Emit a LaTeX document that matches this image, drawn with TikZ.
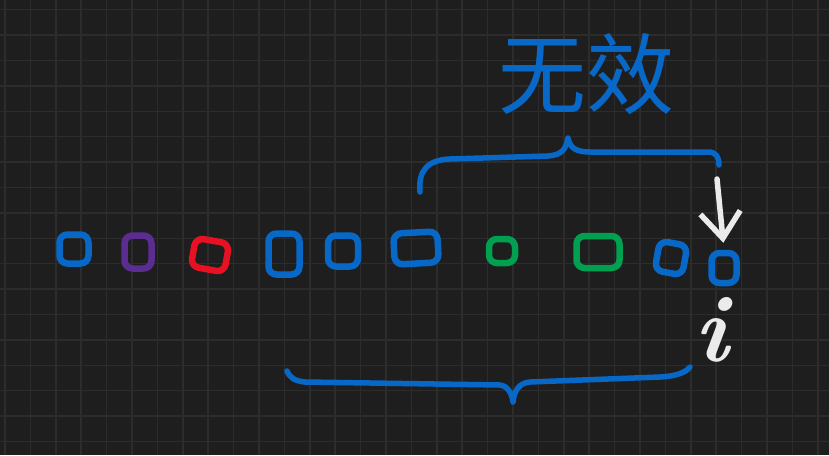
\documentclass[tikz,border=0pt]{standalone}
\usepackage{fontspec}
\newfontfamily\cjkfont{Noto Sans CJK SC}
\usetikzlibrary{arrows.meta}

\definecolor{board}{RGB}{30,30,30}
\definecolor{gridline}{RGB}{44,44,44}
\definecolor{penblue}{RGB}{8,104,200}
\definecolor{penpurple}{RGB}{92,45,145}
\definecolor{penred}{RGB}{232,17,35}
\definecolor{pengreen}{RGB}{0,160,80}
\definecolor{chalk}{RGB}{235,235,235}

\begin{document}
\begin{tikzpicture}[
            x=1pt, y=-1pt,
            pen/.style={line width=6.5pt, line cap=round, line join=round},
            sq/.style={pen, draw, rounded corners=8pt, inner sep=0pt},
            brace/.style={pen, penblue, line width=5.5pt},
            ar/.style={pen, chalk, line width=5.5pt,
            -{Straight Barb[length=26pt, width=40pt]}}
        ]
\useasboundingbox (0,0) rectangle (829,455);
\fill[board] (0,0) rectangle (829,455);
% grid of the board
\foreach \k in {0,...,32}
    \draw[gridline, line width=1.5pt] ({5+25.4*\k},0) -- ({5+25.4*\k},455);
\foreach \k in {0,...,17}
    \draw[gridline, line width=1.5pt] (0,{9.7+25.4*\k}) -- (829,{9.7+25.4*\k});

% row of elements
            \node[sq, penblue,   minimum width=29pt, minimum height=29pt] (b1)  at (74,249)  {};
            \node[sq, penpurple, minimum width=27pt, minimum height=33pt] (p1)  at (138,252) {};
            \node[sq, penred,    minimum width=34pt, minimum height=29pt, rotate=-10] (r1) at (210,255) {};
            \node[sq, penblue,   minimum width=31pt, minimum height=41pt] (b2)  at (284,254) {};
            \node[sq, penblue,   minimum width=30pt, minimum height=31pt] (b3)  at (343,251) {};
            \node[sq, penblue,   minimum width=44pt, minimum height=31pt, rotate=3] (b4) at (416,248) {};
            \node[sq, pengreen,  minimum width=26pt, minimum height=24pt] (g1)  at (502,251) {};
            \node[sq, pengreen,  minimum width=43pt, minimum height=32pt] (g2)  at (598,252) {};
            \node[sq, penblue,   minimum width=28pt, minimum height=30pt, rotate=-10] (b5) at (671,258) {};
            \node[sq, penblue,   minimum width=25pt, minimum height=30pt] (cur) at (724,268) {};

% label over the top brace
            \node[text=penblue, font=\cjkfont\fontsize{88}{88}\selectfont] (lbl) at (586,74) {无效};

% index under the pointed element
            \node[text=chalk, font=\fontsize{95}{95}\selectfont\bfseries\itshape] (idx) at (711,330) {i};

% braces
            \draw[brace] (420,192) .. controls (418,170) and (428,160) .. (450,159)
                -- (548,156) .. controls (562,155) and (566,149) .. (568,138)
                .. controls (570,148) and (576,152) .. (590,152)
                -- (708,152) .. controls (716,152) and (719,157) .. (719,165);
            \draw[brace] (287,371) .. controls (290,378) and (295,381) .. (305,382)
                -- (500,385) .. controls (508,386) and (512,394) .. (513,402)
                .. controls (514,392) and (518,383) .. (530,382)
                -- (660,377) .. controls (678,376) and (686,372) .. (690,367);

% pointer
            \coordinate (tail) at (717,179);
            \draw[ar, shorten >=7pt] (tail) -- (cur.north);
\end{tikzpicture}
\end{document}
